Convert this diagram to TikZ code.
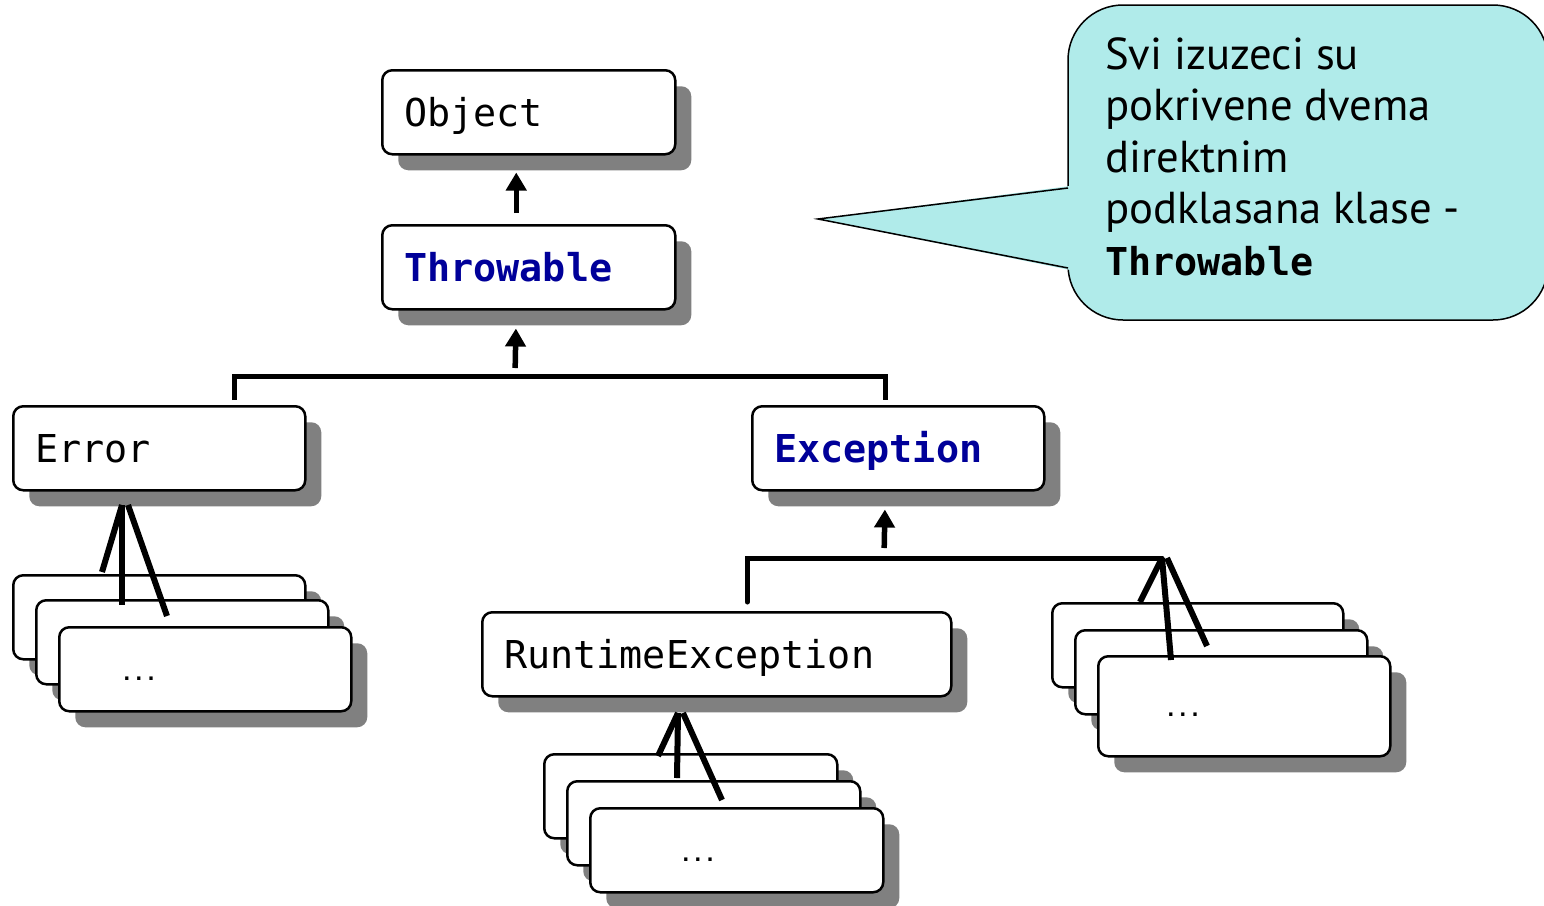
\documentclass[tikz,border=0pt]{standalone}
\usepackage{fontspec}
\setmainfont{PT Sans}
\newfontfamily\monof{DejaVu Sans Mono}
\usetikzlibrary{arrows.meta,shadows}
\definecolor{shd}{RGB}{128,128,128}
\definecolor{jblue}{RGB}{0,0,153}
\definecolor{callfill}{RGB}{176,235,234}
\begin{document}
\begin{tikzpicture}[x=1pt,y=-1pt,
 cls/.style={draw, line width=2.5pt, rounded corners=10pt, fill=white, anchor=north west,
   inner xsep=22pt, inner ysep=0pt, align=left, minimum height=84pt,
   text height=36pt, text depth=8pt,
   font=\fontsize{38.4}{44}\monof,
   general shadow={fill=shd, shadow xshift=16pt, shadow yshift=-16pt}},
 kw/.style={text=jblue, font=\fontsize{38.4}{44}\monof\bfseries},
 arr/.style={line width=5.5pt, -{Triangle[width=20pt,length=18pt]}},
 bar/.style={line width=5pt},
 fan/.style={line width=6pt},
 dots/.style={font=\fontsize{20}{24}\monof\bfseries, inner sep=0pt}]
\useasboundingbox (0,0) rectangle (1544,905);

% callout
\path[draw=black, line width=1.5pt, fill=callfill, rounded corners=55pt] (1068,5) rectangle (1548,320);
\fill[callfill] (818,219) -- (1070,186) -- (1070,270) -- cycle;
\draw[line width=1.5pt, line join=miter] (1068,188) -- (818,219) -- (1068,268);
\node[anchor=north west, align=left, inner sep=0pt, font=\fontsize{44.7}{51.5}\selectfont] (ctext) at (1105,37)
  {Svi izuzeci su\\pokrivene dvema\\direktnim\\podklasana klase -\\{\fontsize{38.4}{44}\monof\bfseries Throwable}};

% main classes
\node[cls, text width=249pt] (obj) at (381,69) {Object};
\node[cls, kw, text width=249pt] (thr) at (381,224) {Throwable};
\node[cls, text width=248pt] (err) at (12,405) {Error};
\node[cls, kw, text width=248pt] (exc) at (751,405) {Exception};
\node[cls, text width=425pt] (rte) at (481,611) {RuntimeException};

% stacks
\node[cls, text width=248pt] (e1) at (12,574) {};
\node[cls, text width=248pt] (e2) at (35,599) {};
\node[cls, text width=248pt] (e3) at (58,626) {};
\node[dots] (d1) at (139,679) {...};

\node[cls, text width=249pt] (r1) at (543,753) {};
\node[cls, text width=249pt] (r2) at (566,780) {};
\node[cls, text width=249pt] (r3) at (589,807) {};
\node[dots] (d2) at (698,860) {...};

\node[cls, text width=247pt] (x1) at (1051,602) {};
\node[cls, text width=248pt] (x2) at (1074,629) {};
\node[cls, text width=248pt, minimum height=100pt] (x3) at (1097,655) {};
\node[dots] (d3) at (1183,715) {...};

% connectors
\coordinate (bar1) at (515,376);
\coordinate (bar2) at (884,558);
\coordinate (apx) at (1162,558);
\coordinate (efan) at (122,505);
\coordinate (rfan) at (678,713);

\draw[arr, shorten <=11pt, shorten >=17pt] ([xshift=-12.5pt]thr.north) -- ([xshift=-12.5pt]obj.south);
\draw[arr, shorten <=8pt, shorten >=18pt] (bar1) -- ([xshift=-12.5pt]thr.south);
\draw[bar] ([xshift=75pt,yshift=5pt]err.north) |- (bar1) -| ([xshift=-13pt,yshift=5pt]exc.north);

\draw[arr, shorten <=10pt, shorten >=18pt] (bar2) -- ([xshift=-13pt]exc.south);
\draw[bar, line cap=round] ([xshift=30.5pt,yshift=9pt]rte.north) |- (apx);

% fans
\draw[fan] (apx) -- ([xshift=89pt]x1.north west);
\draw[fan] (apx) -- ([xshift=74pt,yshift=-5pt]x3.north west);
\draw[fan] ([xshift=5pt]apx) -- ([xshift=133pt,yshift=-17pt]x2.north west);

\draw[fan] (efan) -- ([xshift=90pt,yshift=2pt]e1.north west);
\draw[fan] (efan) -- ([xshift=87pt,yshift=-6pt]e2.north west);
\draw[fan] ([xshift=6pt]efan) -- ([xshift=109pt,yshift=10pt]e3.north west);

\draw[fan] (rfan) -- ([xshift=115pt,yshift=-3pt]r1.north west);
\draw[fan] (rfan) -- ([xshift=111pt,yshift=2pt]r2.north west);
\draw[fan] ([xshift=5pt]rfan) -- ([xshift=133pt,yshift=7pt]r3.north west);
\end{tikzpicture}
\end{document}
